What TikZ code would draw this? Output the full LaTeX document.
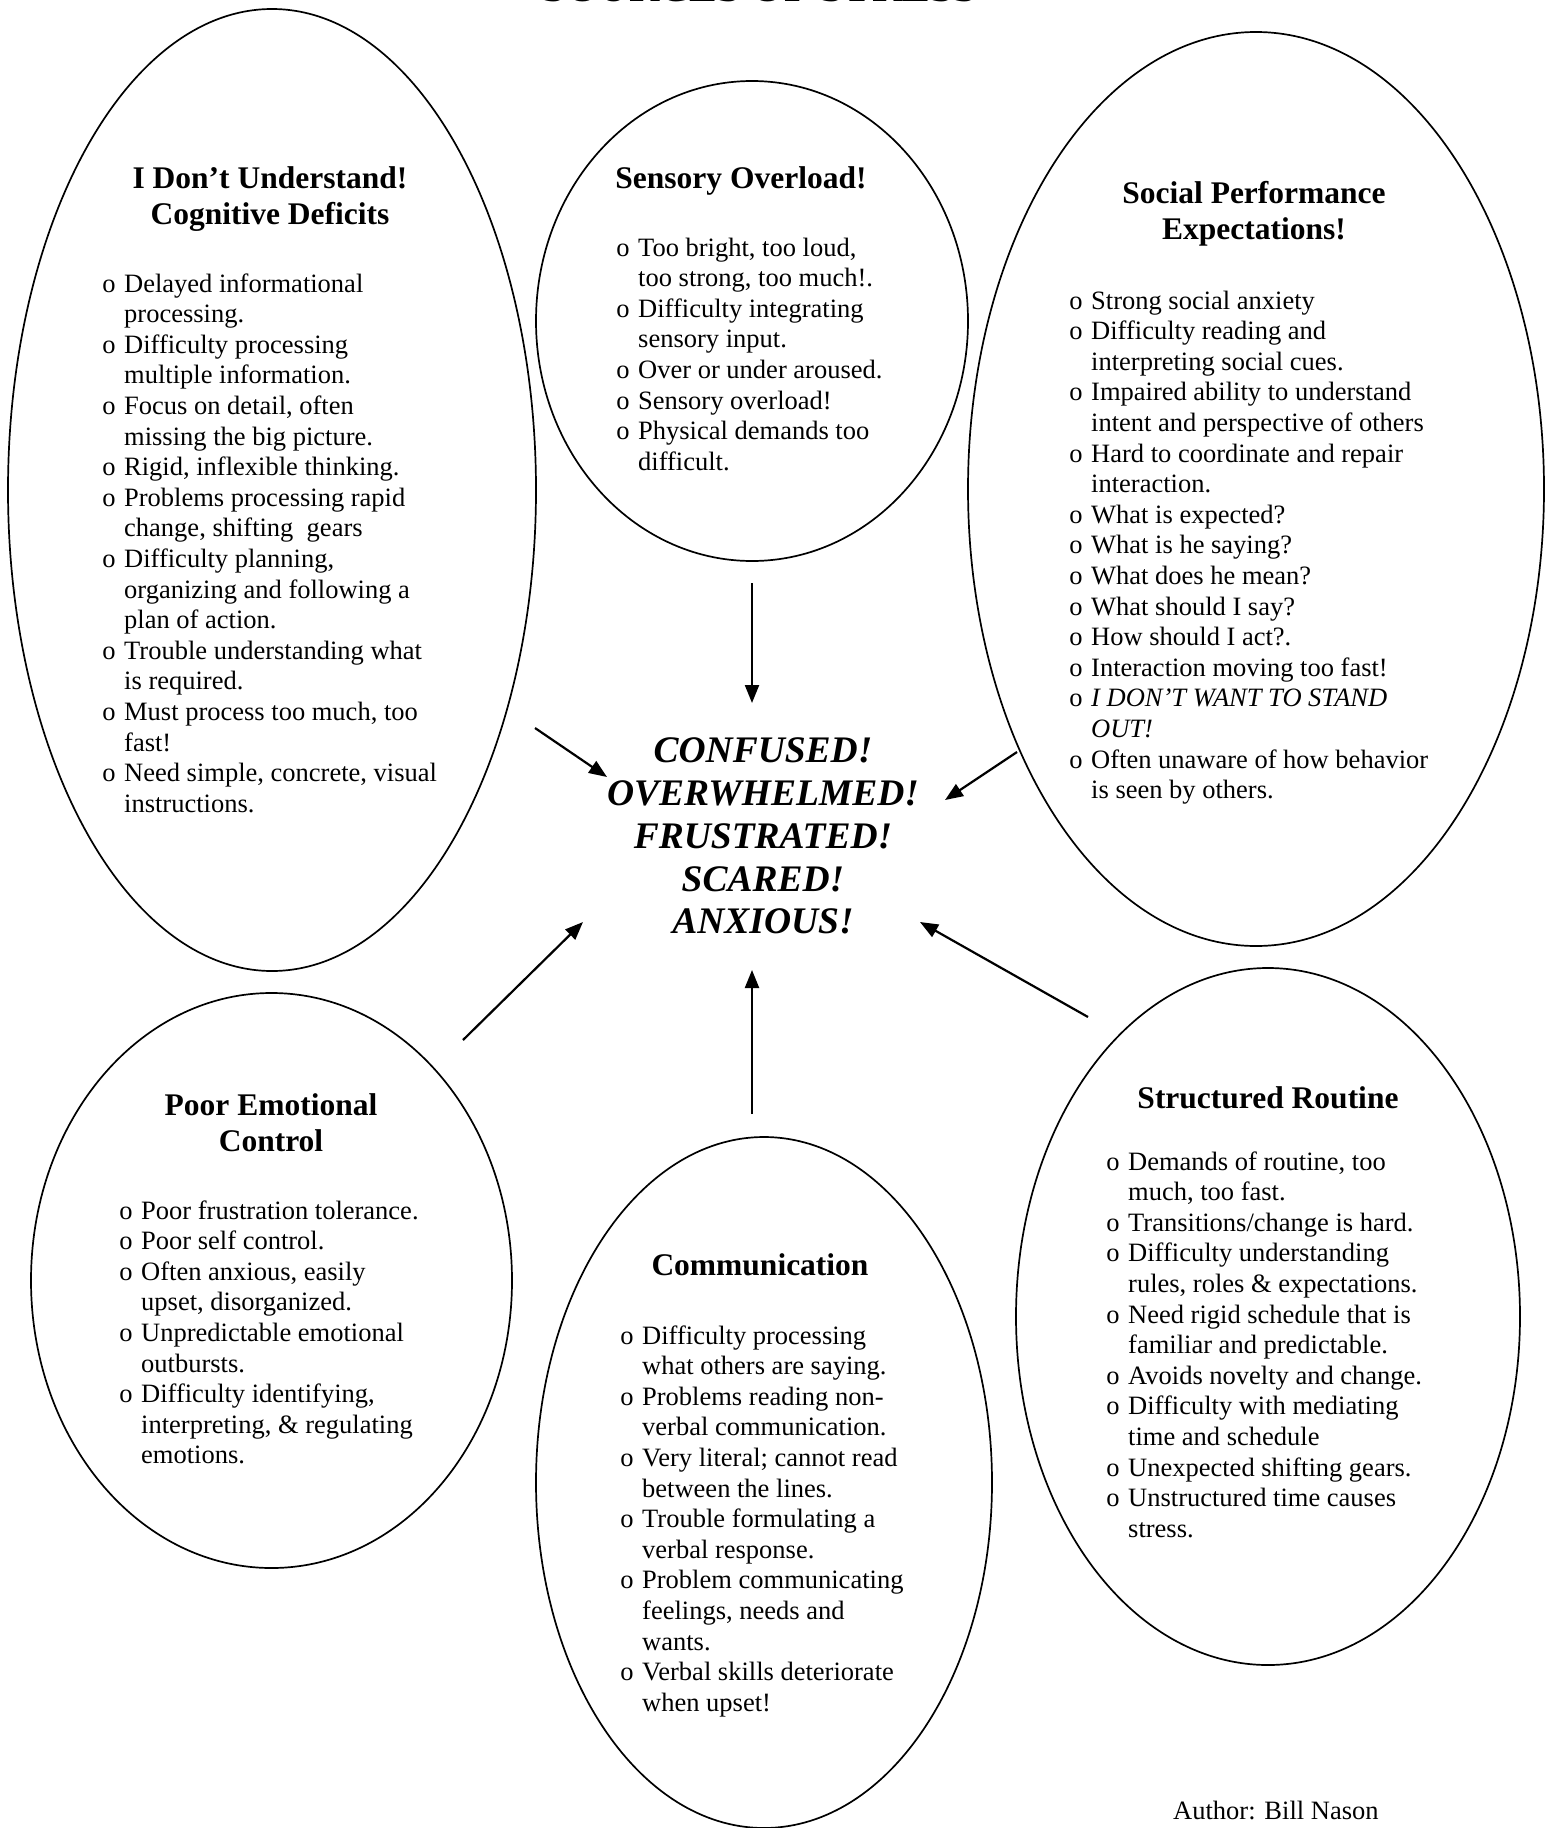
\documentclass[tikz,border=0pt]{standalone}
\usepackage{fontspec}
\setmainfont{Liberation Serif}
\usetikzlibrary{shapes.geometric,arrows.meta}
\newcommand\bu{\llap{o\hspace{8.5pt}}}
\newcommand\blist[4]{%
  \foreach \t [count=\i from 0] in {#4} {\node[body] (#1\i) at (#2,#3+30.6*\i) {\t};}}
\begin{document}
\begin{tikzpicture}[x=1pt,y=-1pt,
  oval/.style={draw, line width=1.7pt, shape=ellipse, inner sep=0pt},
  body/.style={font=\fontsize{26.5}{30.6}\selectfont, inner sep=0pt, anchor=base west},
  head/.style={font=\fontsize{31.5}{36}\selectfont\bfseries, inner sep=0pt, anchor=base},
  feel/.style={font=\fontsize{37.5}{43}\selectfont\bfseries\itshape, inner sep=0pt, anchor=base},
  arr/.style={line width=2.2pt, -{Triangle[length=18pt,width=14pt]}}]
\useasboundingbox (0,0) rectangle (1551,1828);
\clip (0,0) rectangle (1551,1828);

% title (cut off at top of page)
\node[font=\fontsize{42}{48}\selectfont\bfseries, inner sep=0pt, anchor=base] (title) at (760,2) {SOURCES OF STRESS};

% ellipses
\node[oval, minimum width=528pt, minimum height=962pt] (e1) at (272,490) {};
\node[oval, minimum width=432pt, minimum height=480pt] (e2) at (752,321) {};
\node[oval, minimum width=576pt, minimum height=914pt] (e3) at (1256,489) {};
\node[oval, minimum width=481pt, minimum height=575pt] (e4) at (271.5,1280.5) {};
\node[oval, minimum width=456pt, minimum height=691pt] (e5) at (764,1482.5) {};
\node[oval, minimum width=504pt, minimum height=697pt] (e6) at (1268,1316.5) {};

% headings
\node[head] (h1a) at (270,188) {I Don’t Understand!};
\node[head] (h1b) at (270,224.5) {Cognitive Deficits};
\node[head] (h2) at (741,188) {Sensory Overload!};
\node[head] (h3a) at (1254,203) {Social Performance};
\node[head] (h3b) at (1254,239) {Expectations!};
\node[head] (h4a) at (271,1115) {Poor Emotional};
\node[head] (h4b) at (271,1151) {Control};
\node[head] (h5) at (760,1275) {Communication};
\node[head] (h6) at (1268,1108) {Structured Routine};

% lists
\blist{ca}{124}{292}{{\bu Delayed informational},{processing.},{\bu Difficulty processing},{multiple information.},{\bu Focus on detail, often},{missing the big picture.},{\bu Rigid, inflexible thinking.},{\bu Problems processing rapid},{change, shifting\ \ gears},{\bu Difficulty planning,},{organizing and following a},{plan of action.},{\bu Trouble understanding what},{is required.},{\bu Must process too much, too},{fast!},{\bu Need simple, concrete, visual},{instructions.}}

\blist{sa}{638}{256}{{\bu Too bright, too loud,},{too strong, too much!.},{\bu Difficulty integrating},{sensory input.},{\bu Over or under aroused.},{\bu Sensory overload!},{\bu Physical demands too},{difficult.}}

\blist{pa}{1091}{309}{{\bu Strong social anxiety},{\bu Difficulty reading and},{interpreting social cues.},{\bu Impaired ability to understand},{intent and perspective of others},{\bu Hard to coordinate and repair},{interaction.},{\bu What is expected?},{\bu What is he saying?},{\bu What does he mean?},{\bu What should I say?},{\bu How should I act?.},{\bu Interaction moving too fast!},{\bu \textit{I DON’T WANT TO STAND}},{\textit{OUT!}},{\bu Often unaware of how behavior},{is seen by others.}}

\blist{ea}{141}{1219}{{\bu Poor frustration tolerance.},{\bu Poor self control.},{\bu Often anxious, easily},{upset, disorganized.},{\bu Unpredictable emotional},{outbursts.},{\bu Difficulty identifying,},{interpreting, \& regulating},{emotions.}}

\blist{ma}{642}{1344}{{\bu Difficulty processing},{what others are saying.},{\bu Problems reading non-},{verbal communication.},{\bu Very literal; cannot read},{between the lines.},{\bu Trouble formulating a},{verbal response.},{\bu Problem communicating},{feelings, needs and},{wants.},{\bu Verbal skills deteriorate},{when upset!}}

\blist{ra}{1128}{1170}{{\bu Demands of routine, too},{much, too fast.},{\bu Transitions/change is hard.},{\bu Difficulty understanding},{rules, roles \& expectations.},{\bu Need rigid schedule that is},{familiar and predictable.},{\bu Avoids novelty and change.},{\bu Difficulty with mediating},{time and schedule},{\bu Unexpected shifting gears.},{\bu Unstructured time causes},{stress.}}

% central feelings
\node[feel] (f1) at (763,762) {CONFUSED!};
\node[feel] (f2) at (763,805) {OVERWHELMED!};
\node[feel] (f3) at (763,848) {FRUSTRATED!};
\node[feel] (f4) at (763,891) {SCARED!};
\node[feel] (f5) at (763,933) {ANXIOUS!};

% arrow end points
\coordinate (a1s) at (535,728);  \coordinate (a1e) at (607,777);
\coordinate (a2s) at (752,583);  \coordinate (a2e) at (752,703);
\coordinate (a3s) at (1017,752); \coordinate (a3e) at (945,800);
\coordinate (a4s) at (463,1040); \coordinate (a4e) at (583,922);
\coordinate (a5s) at (752,1114); \coordinate (a5e) at (752,970);
\coordinate (a6s) at (1088,1017);\coordinate (a6e) at (920,922);
\draw[arr] (a1s) -- (a1e);
\draw[arr] (a2s) -- (a2e);
\draw[arr] (a3s) -- (a3e);
\draw[arr] (a4s) -- (a4e);
\draw[arr] (a5s) -- (a5e);
\draw[arr] (a6s) -- (a6e);

% author
\node[body] (author) at (1173,1819) {Author: Bill Nason};
\end{tikzpicture}
\end{document}
